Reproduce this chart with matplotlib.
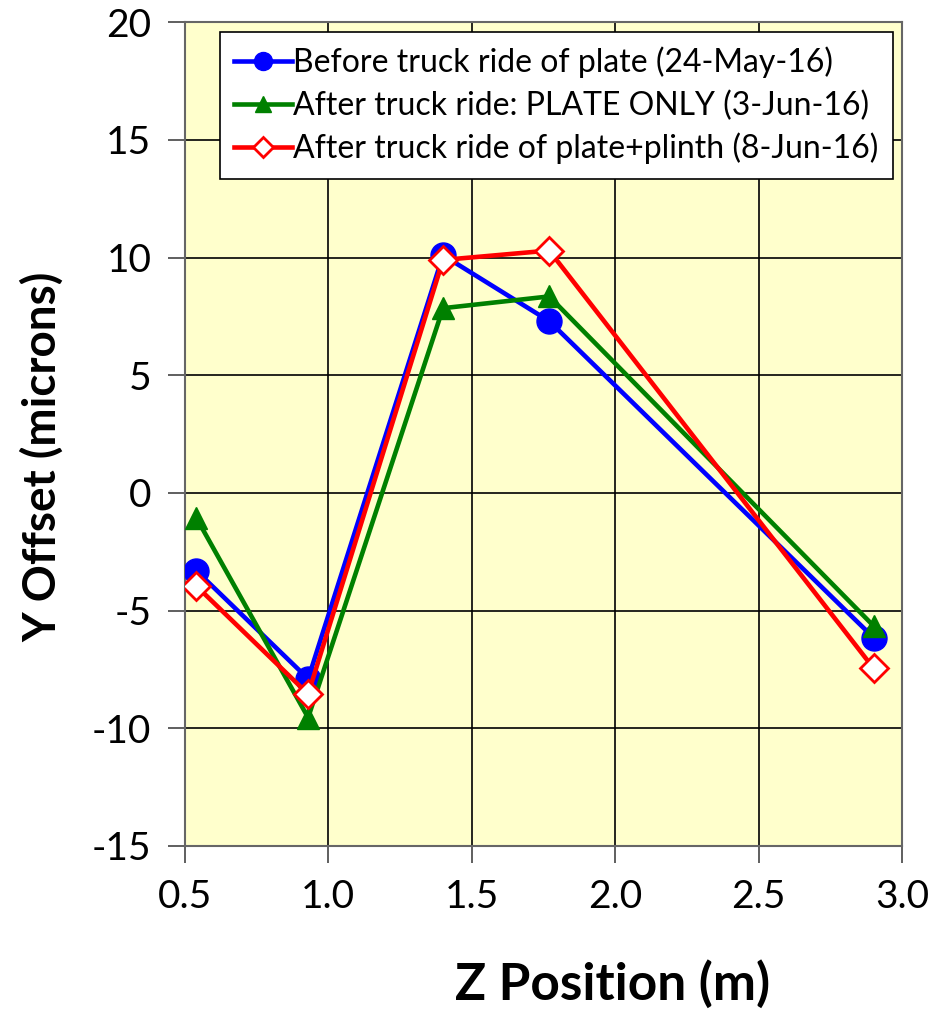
import matplotlib
matplotlib.use('Agg')
import matplotlib.pyplot as plt

# Z positions (m) of the measured points
z_pos = [0.54, 0.93, 1.40, 1.77, 2.90]

# Y offsets (microns) per measurement run
before_ride = [-3.3, -7.9, 10.1, 7.3, -6.15]
plate_only = [-1.05, -9.55, 7.85, 8.35, -5.65]
plate_plinth = [-3.95, -8.55, 9.9, 10.3, -7.45]

labels = ['Before truck ride of plate (24-May-16)',
          'After truck ride: PLATE ONLY (3-Jun-16)',
          'After truck ride of plate+plinth (8-Jun-16)']

plt.rcParams['font.family'] = ['Lato', 'DejaVu Sans']
plt.rcParams['axes.unicode_minus'] = False

fig = plt.figure(figsize=(9.33, 10.13), dpi=100)
ax = fig.add_axes([0.198, 0.165, 0.769, 0.813])
ax.set_facecolor('#FFFFCC')

ax.plot(z_pos, before_ride, color='#0000FF', lw=3.3, marker='o',
        markersize=18, label=labels[0], zorder=3)
ax.plot(z_pos, plate_only, color='#008000', lw=3.3, marker='^',
        markersize=16, label=labels[1], zorder=4)
ax.plot(z_pos, plate_plinth, color='#FF0000', lw=3.3, marker='D',
        markersize=14, markerfacecolor='white', markeredgecolor='#FF0000',
        markeredgewidth=2, label=labels[2], zorder=5)

ax.set_xlim(0.5, 3.0)
ax.set_ylim(-15, 20)
ax.set_xticks([0.5, 1.0, 1.5, 2.0, 2.5, 3.0])
ax.set_xticklabels(['0.5', '1.0', '1.5', '2.0', '2.5', '3.0'])
ax.set_yticks(range(-15, 21, 5))
ax.grid(True, color='black', lw=1.2)
ax.set_axisbelow(True)
for s in ax.spines.values():
    s.set_color('#666666')
    s.set_linewidth(1.5)
ax.tick_params(labelsize=28, length=12, width=1.2, color='#444444', pad=12)

ax.set_xlabel('Z Position (m)', fontsize=37, fontweight='bold')
ax.set_ylabel('Y Offset (microns)', fontsize=33, fontweight='bold')
ax.xaxis.set_label_coords(0.596, -0.138)
ax.yaxis.set_label_coords(-0.168, 0.472)

leg = ax.legend(loc='upper right', fontsize=23, frameon=True, fancybox=False,
                edgecolor='black', framealpha=1, markerscale=0.72,
                handlelength=1.8, handletextpad=0.05, borderpad=0.45,
                labelspacing=0.38, borderaxespad=0,
                bbox_to_anchor=(0.987, 0.988))
leg.get_frame().set_linewidth(1.2)

fig.savefig('out.png', dpi=100)
